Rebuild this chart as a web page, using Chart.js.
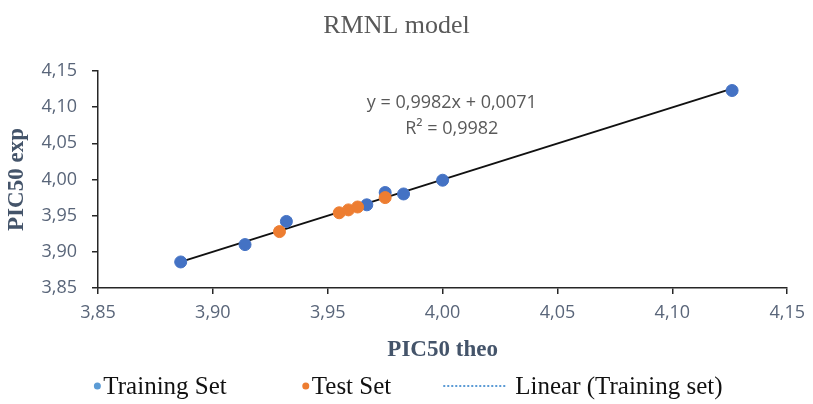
<!DOCTYPE html>
<html>
<head>
<meta charset="utf-8">
<script src="https://cdn.jsdelivr.net/npm/chart.js@4.4.1/dist/chart.umd.min.js"></script>
<style>
    html, body { margin: 0; padding: 0; background: #fff; }
    #wrap { width: 813px; height: 404px; position: relative; }
</style>
</head>
<body>
<div id="wrap"><canvas id="qsarChart"></canvas></div>
<script>
// Training set: theoretical vs experimental PIC50
const trainTheo = [3.886, 3.914, 3.932, 3.967, 3.975, 3.983, 4.000, 4.126];
const trainExp  = [3.886, 3.910, 3.942, 3.965, 3.982, 3.980, 3.999, 4.123];

// Test set
const testTheo = [3.929, 3.955, 3.959, 3.963, 3.975];
const testExp  = [3.928, 3.954, 3.958, 3.962, 3.975];

// Linear fit of the training set (Excel trendline)
const slope = 0.9982;
const intercept = 0.0071;
const r2 = 0.9982;

const axisTicks = [3.85, 3.90, 3.95, 4.00, 4.05, 4.10, 4.15];

const fmt = v => v.toFixed(2).replace('.', ',');
const fmt4 = v => v.toFixed(4).replace('.', ',');

const blue = '#4472C4';
const orange = '#ED7D31';
const tickGray = '#596579';
const titleGray = '#44546A';

function toPoints(xs, ys) {
    return xs.map((x, i) => ({ x: x, y: ys[i] }));
}

const fitX = [Math.min(...trainTheo), Math.max(...trainTheo)];
const fitLine = fitX.map(x => ({ x: x, y: slope * x + intercept }));

/**
 * Equation label placed next to the trendline
 */
const equationPlugin = {
    id: 'equation',
    afterDatasetsDraw(chart) {
        const { ctx, scales } = chart;
        const cx = scales.x.getPixelForValue(4.004);
        ctx.save();
        ctx.fillStyle = '#595959';
        ctx.font = "18px 'Open Sans', sans-serif";
        ctx.textAlign = 'center';
        ctx.textBaseline = 'middle';
        ctx.fillText('y = ' + fmt4(slope) + 'x + ' + fmt4(intercept), cx, scales.y.getPixelForValue(4.106));
        ctx.fillText('R² = ' + fmt4(r2), cx, scales.y.getPixelForValue(4.070));
        ctx.restore();
    }
};

/**
 * Bottom legend drawn like the Excel one (dots + dotted line)
 */
const legendPlugin = {
    id: 'bottomLegend',
    afterDraw(chart) {
        const { ctx } = chart;
        const items = [
            { kind: 'dot', color: '#5B9BD5', text: 'Training Set' },
            { kind: 'dot', color: orange, text: 'Test Set' },
            { kind: 'line', color: '#5B9BD5', text: 'Linear (Training set)' }
        ];
        const y = 386;
        ctx.save();
        ctx.font = "25px 'Liberation Serif', serif";
        ctx.textBaseline = 'middle';
        const markW = { dot: 9, line: 72 };
        const gaps = [76, 52];
        const widths = items.map(it => markW[it.kind] + ctx.measureText(it.text).width);
        const total = widths.reduce((a, b) => a + b, 0) + gaps[0] + gaps[1];
        let x = chart.width / 2 - total / 2 + 2;
        items.forEach((it, i) => {
            if (it.kind === 'dot') {
                ctx.fillStyle = it.color;
                ctx.beginPath();
                ctx.arc(x + 3, y, 3.5, 0, Math.PI * 2);
                ctx.fill();
            } else {
                ctx.strokeStyle = it.color;
                ctx.lineWidth = 2;
                ctx.setLineDash([2, 2]);
                ctx.beginPath();
                ctx.moveTo(x, y);
                ctx.lineTo(x + 62, y);
                ctx.stroke();
                ctx.setLineDash([]);
            }
            ctx.fillStyle = '#111';
            ctx.fillText(it.text, x + markW[it.kind], y + 1);
            x += widths[i] + (gaps[i] || 0);
        });
        ctx.restore();
    }
};

function axisOptions(titleText) {
    return {
        type: 'linear',
        min: 3.85,
        max: 4.15,
        afterBuildTicks: axis => { axis.ticks = axisTicks.map(v => ({ value: v })); },
        ticks: {
            callback: v => fmt(v),
            color: tickGray,
            font: { size: 18, family: "'Open Sans', sans-serif" },
            padding: 8
        },
        grid: {
            display: true,
            drawOnChartArea: false,
            drawTicks: true,
            tickLength: 6,
            color: '#262626',
            lineWidth: 1.5
        },
        border: { display: true, color: '#262626', width: 1.5 },
        title: {
            display: true,
            text: titleText,
            color: titleGray,
            font: { size: 23, weight: 'bold', family: "'Liberation Serif', serif" }
        }
    };
}

const xAxis = axisOptions('PIC50 theo');
xAxis.title.padding = { top: 0, bottom: 40 };
xAxis.afterFit = axis => { axis.height = 116; };

const yAxis = axisOptions('PIC50 exp');
yAxis.ticks.padding = 15;
yAxis.title.padding = { top: 3, bottom: 0 };
yAxis.afterFit = axis => { axis.width = 98; };

new Chart(document.getElementById('qsarChart'), {
    type: 'scatter',
    data: {
        datasets: [
            {
                label: 'Linear (Training set)',
                type: 'line',
                data: fitLine,
                borderColor: '#111',
                borderWidth: 2,
                pointRadius: 0,
                fill: false,
                order: 3
            },
            {
                label: 'Training Set',
                data: toPoints(trainTheo, trainExp),
                backgroundColor: blue,
                borderColor: blue,
                pointRadius: 6,
                order: 2
            },
            {
                label: 'Test Set',
                data: toPoints(testTheo, testExp),
                backgroundColor: orange,
                borderColor: orange,
                pointRadius: 6,
                order: 1
            }
        ]
    },
    options: {
        responsive: true,
        maintainAspectRatio: false,
        animation: false,
        layout: { padding: { left: 0, right: 20, top: 0, bottom: 0 } },
        plugins: {
            legend: { display: false },
            tooltip: { enabled: false },
            title: {
                display: true,
                text: 'RMNL model',
                color: '#595959',
                font: { size: 26, weight: 'normal', family: "'Liberation Serif', serif" },
                padding: { top: 11, bottom: 28.8 }
            }
        },
        scales: { x: xAxis, y: yAxis }
    },
    plugins: [equationPlugin, legendPlugin]
});
</script>
</body>
</html>
